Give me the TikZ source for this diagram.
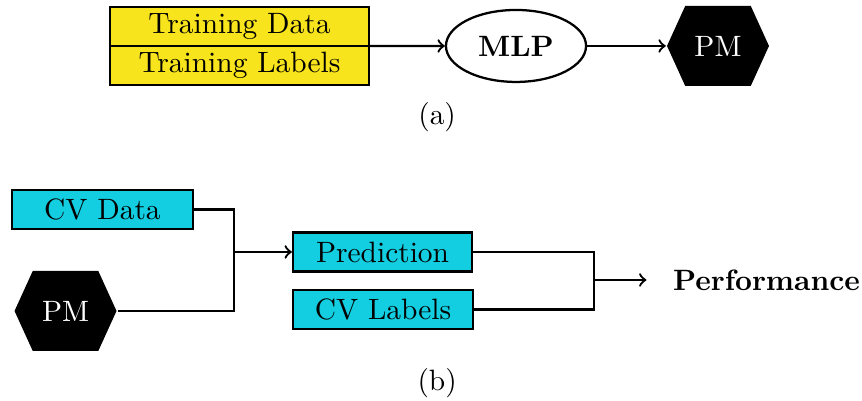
\documentclass[tikz,border=0pt]{standalone}
\usetikzlibrary{positioning,shapes.geometric,shapes.symbols}

\definecolor{trainyellow}{RGB}{247,228,28}
\definecolor{cvcyan}{RGB}{18,206,224}

\tikzset{
  trainbox/.style={draw=black, fill=trainyellow, minimum width=3.22cm, minimum height=0.484cm, inner sep=0pt, outer sep=0pt},
  cvbox/.style={draw=black, fill=cvcyan, minimum height=0.484cm, inner sep=0pt},
  pmhex/.style={signal, signal to=west and east, signal pointer angle=131, fill=black, text=white,
    minimum width=1.267cm, minimum height=0.994cm, inner sep=0pt}
}

\begin{document}
\begin{tikzpicture}[thick, font=\fontsize{10.4}{12.5}\selectfont]
\useasboundingbox (0, 0) rectangle (10.708, 4.969);

% (a)
\node[trainbox] at (2.975, 4.640) (td) {Training Data};
\node[trainbox, below=0pt of td] (tl) {Training Labels};
\node[ellipse, draw=black, minimum width=1.74cm, minimum height=0.894cm, inner sep=0pt] at (6.410, 4.398) (mlp) {\textbf{MLP}};
\node[pmhex] at (8.919, 4.398) (pm1) {PM};
\draw[->] (tl.north east) -- (mlp.west);
\draw[->] (mlp.east) -- (pm1.west);
\node at (5.43, 3.516) (la) {(a)};

% (b)
\node[cvbox, minimum width=2.248cm] at (1.273, 2.366) (cvd) {CV Data};
\node[pmhex] at (0.814, 1.106) (pm2) {PM};
\node[cvbox, minimum width=2.224cm] at (4.752, 1.839) (pred) {Prediction};
\node[cvbox, minimum width=2.236cm] at (4.758, 1.124) (cvl) {CV Labels};
\node at (9.522, 1.491) (perf) {\textbf{Performance}};
\coordinate (j1) at (2.907, 1.839);
\coordinate (j2) at (7.379, 1.491);
\draw (cvd.east) -| (j1);
\draw (pm2.east) -| (j1);
\draw[->] (j1) -- (pred.west);
\draw (pred.east) -| (j2);
\draw (cvl.east) -| (j2);
\draw[->, shorten >=0.2cm] (j2) -- (perf.west);
\node at (5.43, 0.211) (lb) {(b)};

\end{tikzpicture}
\end{document}
